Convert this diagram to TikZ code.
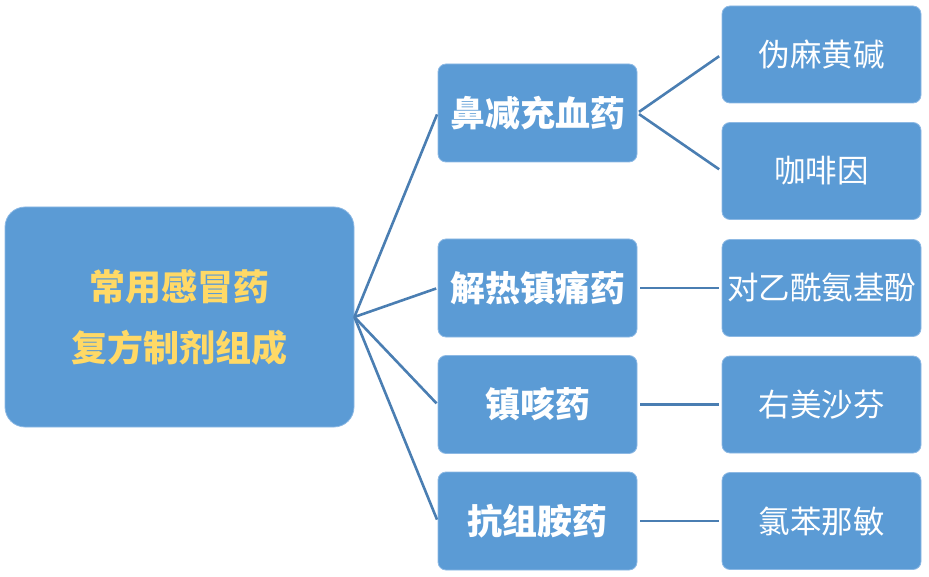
\documentclass[tikz,border=0pt]{standalone}
\usepackage{fontspec}
\newfontfamily\cjk{Noto Sans CJK SC}
\definecolor{boxblue}{HTML}{5B9BD5}
\definecolor{boxedge}{HTML}{8DB9E4}
\definecolor{linkblue}{HTML}{4A7EB2}
\definecolor{rootyellow}{HTML}{FFD966}
\tikzset{
  box/.style={rectangle, fill=boxblue, draw=boxedge, line width=0.8pt, inner sep=0pt, text=white, align=center},
  rootbox/.style={box, rounded corners=20pt, minimum width=349pt, minimum height=220pt, text=rootyellow,
    font=\cjk\bfseries\fontsize{36}{61}\selectfont},
  midbox/.style={box, rounded corners=8pt, minimum width=199pt, minimum height=98pt,
    font=\cjk\bfseries\fontsize{35}{40}\selectfont},
  leafbox/.style={box, rounded corners=8pt, minimum width=199pt, minimum height=97pt,
    font=\cjk\fontsize{31.5}{36}\selectfont},
  link/.style={draw=linkblue, line width=2.6pt}
}
\begin{document}
\begin{tikzpicture}[x=1pt,y=-1pt]
\useasboundingbox (0,0) rectangle (929,577);
\node[rootbox] (root) at (179.5,317) {常用感冒药\\复方制剂组成};
\node[midbox] (m1) at (537.5,113) {鼻减充血药};
\node[midbox] (m2) at (537.5,288) {解热镇痛药};
\node[midbox] (m3) at (537.5,404.5) {镇咳药};
\node[midbox] (m4) at (537.5,521) {抗组胺药};
\node[leafbox] (l1) at (821.5,54.5) {伪麻黄碱};
\node[leafbox] (l2) at (821.5,171) {咖啡因};
\node[leafbox] (l3) at (821.5,288) {对乙酰氨基酚};
\node[leafbox] (l4) at (821.5,404.5) {右美沙芬};
\node[leafbox] (l5) at (821.5,521) {氯苯那敏};
\foreach \m in {m1,m2,m3,m4}{
  \draw[link, shorten >=1.5pt] (root.east) -- (\m.west);
}
\draw[link, shorten <=2pt, shorten >=3pt] (m1.east) -- (l1.west);
\draw[link, shorten <=2pt, shorten >=3pt] (m1.east) -- (l2.west);
\draw[link, shorten <=3pt, shorten >=3pt] (m2.east) -- (l3.west);
\draw[link, shorten <=3pt, shorten >=3pt] (m3.east) -- (l4.west);
\draw[link, shorten <=3pt, shorten >=3pt] (m4.east) -- (l5.west);
\end{tikzpicture}
\end{document}
